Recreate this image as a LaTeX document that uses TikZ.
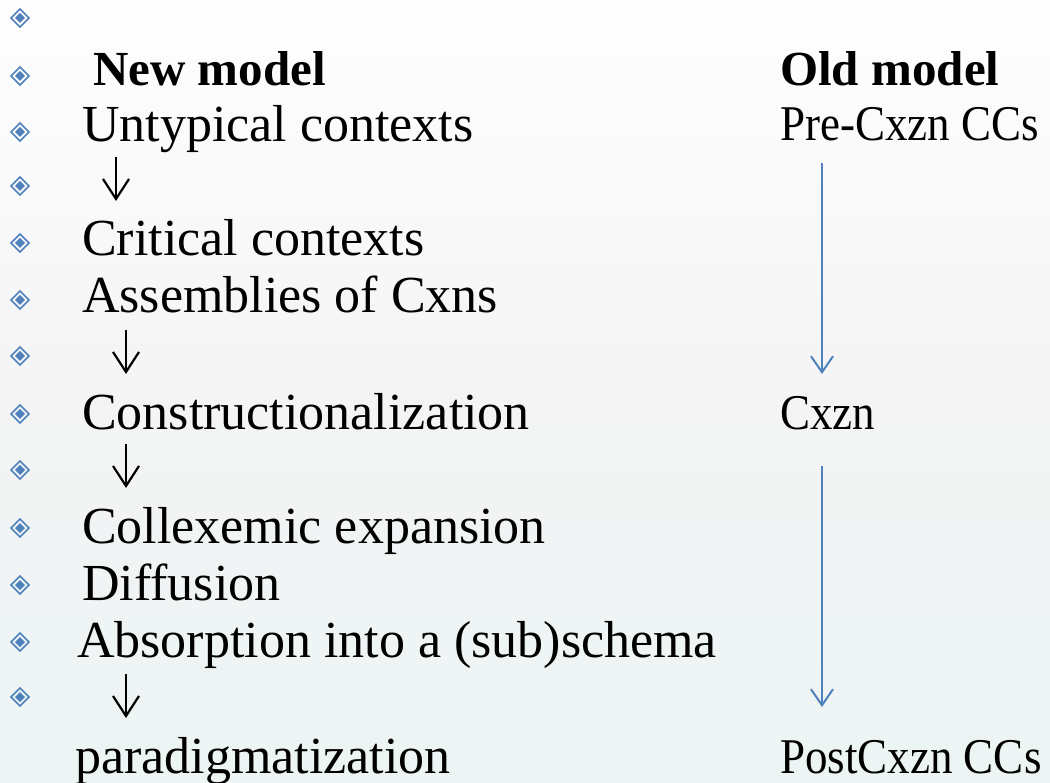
\documentclass[tikz,border=0pt]{standalone}
\usepackage{fontspec}
\setmainfont{Liberation Serif}
\newfontfamily\narrowserif[FakeStretch=0.9]{Liberation Serif}
\usetikzlibrary{arrows.meta}
\definecolor{bulletblue}{HTML}{4F81BD}
\definecolor{bgtop}{HTML}{FEFEFE}
\definecolor{bgmid}{HTML}{F4F4F4}
\definecolor{bgbot}{HTML}{ECF4F4}
\tikzset{
  txt/.style={anchor=base west, inner sep=0pt, font=\fontsize{52}{60}\selectfont},
  rtxt/.style={anchor=base west, inner sep=0pt, font=\narrowserif\fontsize{50}{58}\selectfont},
  btxt/.style={anchor=base west, inner sep=0pt, font=\fontsize{49}{58}\selectfont\bfseries},
  blackarrow/.style={draw=black, line width=2.2pt, -{Straight Barb[length=20pt,width=26pt,line width=2.2pt]}},
  bluearrow/.style={draw=bulletblue, line width=2pt, -{Straight Barb[length=16pt,width=22pt,line width=2pt]}},
  pics/bul/.style={code={
    \draw[bulletblue, line width=1.6pt] (0,-9) -- (9,0) -- (0,9) -- (-9,0) -- cycle;
    \fill[bulletblue] (0,-5) -- (5,0) -- (0,5) -- (-5,0) -- cycle;
  }}
}
\begin{document}
\begin{tikzpicture}[x=1pt,y=-1pt]
\shade[top color=bgtop, bottom color=bgmid] (0,0) rectangle (1050,400);
\shade[top color=bgmid, bottom color=bgbot] (0,400) rectangle (1050,783);
\useasboundingbox (0,0) rectangle (1050,783);
% bullets
\foreach \y in {18,76,132,186,243,300,356,414,470,528,585,642,697}
  \pic at (20,\y) {bul};
% left column
\node[btxt] (newm) at (93,86) {New model};
\node[txt] (untyp) at (82,142) {Untypical contexts};
\node[txt] (crit) at (82,256) {Critical contexts};
\node[txt] (assem) at (82,313) {Assemblies of Cxns};
\node[txt] (cxzn) at (82,430) {Constructionalization};
\node[txt] (coll) at (82,543) {Collexemic expansion};
\node[txt] (diff) at (82,600) {Diffusion};
\node[txt] (absorp) at (77,657) {Absorption into a (sub)schema};
\node[txt] (para) at (75,773) {paradigmatization};
% down arrows in left column
\coordinate (a1s) at (116,157); \coordinate (a1e) at (116,201);
\coordinate (a2s) at (126,330); \coordinate (a2e) at (126,374);
\coordinate (a3s) at (126,444); \coordinate (a3e) at (126,488);
\coordinate (a4s) at (126,674); \coordinate (a4e) at (126,718);
\draw[blackarrow] (a1s) -- (a1e);
\draw[blackarrow] (a2s) -- (a2e);
\draw[blackarrow] (a3s) -- (a3e);
\draw[blackarrow] (a4s) -- (a4e);
% right column
\node[btxt] (oldm) at (780,86) {Old model};
\node[rtxt] (pre) at (780,141) {Pre-Cxzn CCs};
\node[rtxt] (cx) at (780,430) {Cxzn};
\node[rtxt] (post) at (780,773) {PostCxzn CCs};
\coordinate (s1) at (822,163);
\coordinate (e1) at (822,374);
\coordinate (s2) at (822,466);
\coordinate (e2) at (822,707);
\draw[bluearrow] (s1) -- (e1);
\draw[bluearrow] (s2) -- (e2);
\end{tikzpicture}
\end{document}
